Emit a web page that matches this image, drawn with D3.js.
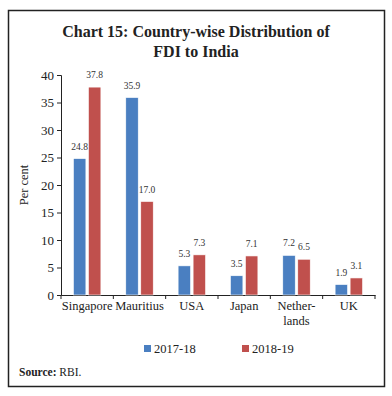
<!DOCTYPE html>
<html>
<head>
<meta charset="utf-8">
<script src="https://cdn.jsdelivr.net/npm/d3@7"></script>
<style>
  body { margin: 0; background: #fff; }
  svg { display: block; font-family: "Liberation Serif", "DejaVu Serif", serif; }
</style>
</head>
<body>
<svg id="chart"></svg>
<script>
// Chart 15: Country-wise Distribution of FDI to India
const categories = ['Singapore', 'Mauritius', 'USA', 'Japan', 'Netherlands', 'UK'];
const categoryLabels = [['Singapore'], ['Mauritius'], ['USA'], ['Japan'], ['Nether-', 'lands'], ['UK']];
const seriesNames = ['2017-18', '2018-19'];
const values1718 = [24.8, 35.9, 5.3, 3.5, 7.2, 1.9];
const values1819 = [37.8, 17.0, 7.3, 7.1, 6.5, 3.1];
const yTicks = [0, 5, 10, 15, 20, 25, 30, 35, 40];

const COLORS = { '2017-18': '#4a7fc1', '2018-19': '#c0504d' };

const width = 392, height = 396;
const svg = d3.select('#chart').attr('width', width).attr('height', height);

// frame
svg.append('rect')
  .attr('x', 8.5).attr('y', 10.5)
  .attr('width', 376).attr('height', 376)
  .attr('fill', 'none').attr('stroke', '#222').attr('stroke-width', 1.5);

// title
const title = svg.append('text')
  .attr('text-anchor', 'middle')
  .attr('font-size', '16px')
  .attr('font-weight', 'bold')
  .attr('fill', '#222');
title.append('tspan').attr('x', 196).attr('y', 37).text('Chart 15: Country-wise Distribution of');
title.append('tspan').attr('x', 196).attr('y', 57).text('FDI to India');

const x0 = d3.scaleBand().domain(categories).range([61, 375]);
const x1 = d3.scaleBand().domain(seriesNames).range([0, x0.bandwidth()])
  .paddingInner(0.17).paddingOuter(0.83);
const y = d3.scaleLinear().domain([0, 40]).range([295, 75]);

// y axis
const yAxis = svg.append('g')
  .attr('transform', 'translate(61,0)')
  .call(d3.axisLeft(y).tickValues(yTicks).tickSize(4).tickPadding(3));
yAxis.select('.domain').attr('stroke', '#222');
yAxis.selectAll('line').attr('stroke', '#222');
yAxis.selectAll('text')
  .attr('font-size', '13px')
  .attr('font-family', '"Liberation Serif", serif')
  .attr('fill', '#222');

// x axis
const xAxis = svg.append('g')
  .attr('transform', 'translate(0,295)')
  .call(d3.axisBottom(x0).tickSize(0).tickFormat(''));
xAxis.select('.domain').attr('stroke', '#222');
const bounds = categories.map(c => x0(c)).concat([x0.range()[1]]);
xAxis.selectAll('.sep').data(bounds).enter().append('line')
  .attr('x1', d => d).attr('x2', d => d)
  .attr('y1', 0).attr('y2', 4)
  .attr('stroke', '#222');

categories.forEach((c, i) => {
  const t = svg.append('text')
    .attr('text-anchor', 'middle')
    .attr('font-size', '12.5px')
    .attr('fill', '#222');
  categoryLabels[i].forEach((line, j) => {
    t.append('tspan')
      .attr('x', x0(c) + x0.bandwidth() / 2)
      .attr('y', 310 + j * 15)
      .text(line);
  });
});

// y label
svg.append('text')
  .attr('transform', 'translate(28,185) rotate(-90)')
  .attr('text-anchor', 'middle')
  .attr('font-size', '12.5px')
  .attr('fill', '#222')
  .text('Per cent');

// bars
const series = [
  { name: '2017-18', values: values1718 },
  { name: '2018-19', values: values1819 },
];

series.forEach(s => {
  const g = svg.append('g');
  g.selectAll('rect').data(s.values).enter().append('rect')
    .attr('x', (d, i) => x0(categories[i]) + x1(s.name))
    .attr('y', d => y(d))
    .attr('width', x1.bandwidth())
    .attr('height', d => y(0) - y(d))
    .attr('fill', COLORS[s.name])
    .attr('stroke', '#fff')
    .attr('stroke-width', 0.6);

  g.selectAll('text').data(s.values).enter().append('text')
    .attr('x', (d, i) => x0(categories[i]) + x1(s.name) + x1.bandwidth() / 2)
    .attr('y', d => y(d) - 9)
    .attr('text-anchor', 'middle')
    .attr('font-size', '9.5px')
    .attr('fill', '#333')
    .text(d => d.toFixed(1));
});

// legend
const legend = svg.append('g');
const legendX = [144, 242];
series.forEach((s, i) => {
  legend.append('rect')
    .attr('x', legendX[i]).attr('y', 345)
    .attr('width', 7).attr('height', 7)
    .attr('fill', COLORS[s.name]);
  legend.append('text')
    .attr('x', legendX[i] + 10).attr('y', 353)
    .attr('font-size', '12.5px')
    .attr('fill', '#222')
    .text(s.name);
});

// source
const src = svg.append('text')
  .attr('x', 19).attr('y', 376)
  .attr('font-size', '11.5px')
  .attr('fill', '#222');
src.append('tspan').attr('font-weight', 'bold').text('Source:');
src.append('tspan').text(' RBI.');
</script>
</body>
</html>
